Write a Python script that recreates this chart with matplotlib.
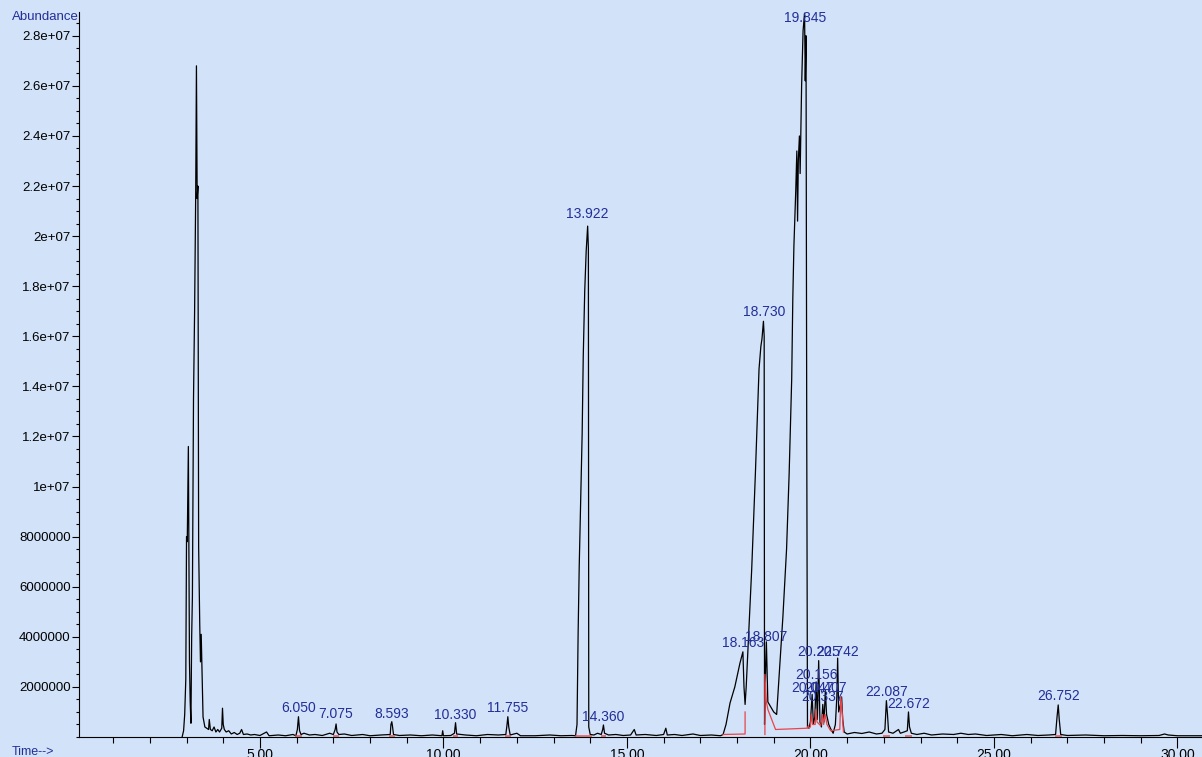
import numpy as np
import matplotlib
matplotlib.use("Agg")
import matplotlib.pyplot as plt
from matplotlib.ticker import MultipleLocator, FixedLocator

plt.rcParams['font.family'] = ['Liberation Sans', 'DejaVu Sans']

# total ion chromatogram, time in min, abundance in millions
time_min = [2.88, 2.92, 2.95, 2.98, 3.00, 3.02, 3.05, 3.08, 3.10, 3.12, 3.14, 3.16, 3.19, 3.22,
            3.25, 3.27, 3.29, 3.31, 3.33, 3.36, 3.38, 3.40, 3.42, 3.45, 3.50, 3.55, 3.60, 3.62,
            3.65, 3.70, 3.75, 3.80, 3.85, 3.90, 3.96, 3.98, 4.00, 4.03, 4.08, 4.15, 4.22, 4.30,
            4.38, 4.45, 4.50, 4.55, 4.65, 4.75, 4.85, 5.00, 5.18, 5.25, 5.50, 5.70, 5.90, 5.98,
            6.02, 6.05, 6.08, 6.12, 6.20, 6.35, 6.50, 6.70, 6.90, 7.00, 7.05, 7.075, 7.10, 7.15,
            7.30, 7.50, 7.80, 8.00, 8.30, 8.55, 8.57, 8.593, 8.61, 8.64, 8.80, 9.10, 9.40, 9.70,
            9.96, 9.98, 10.00, 10.20, 10.30, 10.33, 10.36, 10.60, 10.90, 11.20, 11.50, 11.70,
            11.73, 11.755, 11.78, 11.82, 12.00, 12.10, 12.50, 12.90, 13.20, 13.50, 13.60,
            13.64, 13.67, 13.70, 13.74, 13.78, 13.81, 13.85, 13.89, 13.93, 13.95, 13.96, 14.00,
            14.10, 14.20, 14.30, 14.34, 14.36, 14.39, 14.50, 14.70, 14.90, 15.10, 15.20, 15.25,
            15.50, 15.80, 16.00, 16.06, 16.10, 16.30, 16.50, 16.80, 17.00, 17.30, 17.55,
            17.62, 17.70, 17.81, 17.94, 18.08, 18.16, 18.19, 18.22, 18.25, 18.32, 18.40, 18.50,
            18.60, 18.65, 18.68, 18.72, 18.74, 18.75, 18.78, 18.80, 18.82, 18.84, 18.90, 19.00,
            19.08, 19.15, 19.25, 19.35, 19.42, 19.49, 19.52, 19.55, 19.60, 19.63, 19.65, 19.67,
            19.70, 19.72, 19.76, 19.80, 19.84, 19.86, 19.88, 19.90, 19.92, 19.96, 20.00, 20.047,
            20.08, 20.12, 20.156, 20.19, 20.225, 20.26, 20.30, 20.337, 20.37, 20.407, 20.44,
            20.50, 20.56, 20.62, 20.68, 20.72, 20.742, 20.77, 20.82, 20.85, 20.88, 20.92, 21.00,
            21.20, 21.40, 21.60, 21.80, 21.95, 22.03, 22.07, 22.10, 22.13, 22.25, 22.40, 22.45,
            22.55, 22.64, 22.672, 22.70, 22.75, 22.90, 23.10, 23.30, 23.60, 23.90, 24.10, 24.30,
            24.50, 24.80, 25.20, 25.50, 25.90, 26.20, 26.50, 26.68, 26.72, 26.752, 26.78, 26.82,
            27.00, 27.50, 28.00, 28.50, 29.00, 29.50, 29.65, 29.75, 30.00, 30.50, 30.67]
abund_m = [0.00, 0.25, 0.90, 2.30, 8.00, 7.80, 11.60, 3.00, 1.40, 0.55, 4.00, 5.60, 13.50, 17.00,
           21.70, 26.80, 21.50, 22.00, 7.60, 4.50, 3.00, 4.10, 2.80, 0.80, 0.40, 0.35, 0.30, 0.70,
           0.30, 0.25, 0.40, 0.20, 0.30, 0.20, 0.35, 1.15, 0.50, 0.30, 0.20, 0.25, 0.12, 0.18,
           0.10, 0.15, 0.30, 0.10, 0.12, 0.08, 0.10, 0.06, 0.20, 0.05, 0.08, 0.05, 0.10, 0.05,
           0.30, 0.81, 0.25, 0.10, 0.15, 0.08, 0.10, 0.06, 0.15, 0.10, 0.30, 0.52, 0.20, 0.10,
           0.12, 0.06, 0.10, 0.05, 0.08, 0.10, 0.50, 0.61, 0.45, 0.10, 0.06, 0.08, 0.05, 0.08,
           0.05, 0.25, 0.05, 0.06, 0.15, 0.57, 0.12, 0.08, 0.05, 0.10, 0.08, 0.10,
           0.45, 0.81, 0.40, 0.08, 0.15, 0.05, 0.05, 0.08, 0.05, 0.06, 0.05,
           0.50, 4.10, 6.80, 9.50, 12.10, 15.20, 17.80, 19.40, 20.40, 19.50, 0.40, 0.10,
           0.08, 0.15, 0.10, 0.30, 0.48, 0.15, 0.08, 0.10, 0.06, 0.08, 0.30, 0.08,
           0.10, 0.06, 0.10, 0.35, 0.08, 0.10, 0.06, 0.12, 0.06, 0.08, 0.05,
           0.10, 0.50, 1.36, 2.00, 2.95, 3.40, 2.00, 1.30, 2.00, 4.20, 6.70, 10.50,
           14.70, 15.60, 15.90, 16.60, 16.00, 0.50, 2.80, 3.80, 2.60, 1.40, 1.25, 1.00,
           0.90, 2.50, 4.80, 7.50, 10.50, 14.30, 17.50, 19.60, 21.80, 23.40, 20.60, 23.00,
           24.00, 22.50, 26.00, 28.20, 28.90, 26.20, 28.00, 12.00, 0.40, 0.35, 0.60, 1.70,
           0.50, 0.80, 2.20, 0.70, 3.05, 0.60, 0.40, 1.30, 0.60, 1.85, 0.90,
           0.50, 0.30, 0.15, 0.50, 1.60, 3.15, 1.00, 1.30, 1.60, 0.70, 0.20, 0.12,
           0.18, 0.14, 0.20, 0.12, 0.15, 0.30, 1.45, 0.90, 0.20, 0.15, 0.30, 0.15,
           0.20, 0.25, 1.00, 0.40, 0.15, 0.10, 0.15, 0.08, 0.12, 0.10, 0.15, 0.10,
           0.12, 0.06, 0.10, 0.05, 0.10, 0.06, 0.08, 0.10, 0.80, 1.28, 0.70, 0.10,
           0.06, 0.08, 0.05, 0.06, 0.05, 0.06, 0.12, 0.08, 0.05, 0.05, 0.05]

# integration traces (red)
integ_a_t = [17.62, 18.22, 18.22]
integ_a_y = [0.10, 0.12, 1.00]
integ_b_t = [18.76, 18.76, 18.80, 18.84, 19.05, 19.90, 19.95]
integ_b_y = [0.10, 2.50, 1.40, 1.10, 0.30, 0.35, 0.45]
integ_c_t = [19.93, 20.00, 20.02, 20.06, 20.13, 20.15, 20.18, 20.28, 20.33, 20.36, 20.40,
             20.45, 20.55, 20.80, 20.83, 20.87, 20.90]
integ_c_y = [0.35, 0.40, 0.90, 0.50, 0.50, 1.10, 0.60, 0.45, 0.90, 0.50, 0.90,
             0.50, 0.25, 0.30, 1.60, 0.90, 0.20]
integ_start = [5.99, 7.02, 8.54, 10.28, 11.70, 13.62, 14.32, 22.01, 22.61, 26.68]
integ_end = [6.11, 7.13, 8.65, 10.38, 11.81, 14.02, 14.41, 22.15, 22.74, 26.83]

# peak labels
peak_names = ['6.050', '7.075', '8.593', '10.330', '11.755', '13.922', '14.360', '18.163',
              '18.730', '18.807', '19.845', '20.047', '20.156', '20.225', '20.337', '20.407',
              '20.742', '22.087', '22.672', '26.752']
peak_t = [6.050, 7.075, 8.593, 10.330, 11.755, 13.922, 14.360, 18.163, 18.730, 18.807,
          19.845, 20.047, 20.156, 20.225, 20.337, 20.407, 20.742, 22.087, 22.672, 26.752]
label_y = [1.15, 0.91, 0.93, 0.89, 1.16, 20.89, 0.81, 3.77, 16.99, 3.98, 28.71, 1.96, 2.48,
           3.39, 1.60, 1.96, 3.39, 1.80, 1.32, 1.64]

ytick_vals = [2e6, 4e6, 6e6, 8e6, 1e7, 1.2e7, 1.4e7, 1.6e7, 1.8e7, 2e7, 2.2e7, 2.4e7, 2.6e7, 2.8e7]
ytick_labels = ['2000000', '4000000', '6000000', '8000000', '1e+07', '1.2e+07', '1.4e+07',
                '1.6e+07', '1.8e+07', '2e+07', '2.2e+07', '2.4e+07', '2.6e+07', '2.8e+07']
xtick_vals = [5, 10, 15, 20, 25, 30]
xtick_labels = ['5.00', '10.00', '15.00', '20.00', '25.00', '30.00']

bg = '#d1e2f9'
navy = '#232f98'
red = '#e8454a'

fig = plt.figure(figsize=(12.02, 7.57), dpi=100, facecolor=bg)
ax = fig.add_axes([79 / 1202, 20 / 757, 1 - 79 / 1202, 725 / 757])
ax.set_facecolor(bg)

ax.plot(time_min, np.array(abund_m) * 1e6, color='black', lw=0.9)

# red integration marks
ax.plot(integ_a_t, np.array(integ_a_y) * 1e6, color=red, lw=0.9)
ax.plot(integ_b_t, np.array(integ_b_y) * 1e6, color=red, lw=0.9)
ax.plot(integ_c_t, np.array(integ_c_y) * 1e6, color=red, lw=0.9)
for s, e in zip(integ_start, integ_end):
    ax.plot([s, e], [0.05e6, 0.05e6], color=red, lw=1.4, alpha=0.7)

for name, t, y in zip(peak_names, peak_t, label_y):
    ax.text(t, y * 1e6, name, ha='center', va='center', fontsize=10, color=navy, clip_on=False)

ax.set_xlim(0.07, 30.67)
ax.set_ylim(0, 28.95e6)

for side in ['top', 'right']:
    ax.spines[side].set_visible(False)
for side in ['left', 'bottom']:
    ax.spines[side].set_linewidth(0.8)

ax.yaxis.set_major_locator(FixedLocator(ytick_vals))
ax.set_yticklabels(ytick_labels)
ax.yaxis.set_minor_locator(MultipleLocator(5e5))
ax.set_xticks(xtick_vals)
ax.set_xticklabels(xtick_labels)
ax.xaxis.set_minor_locator(MultipleLocator(1))

ax.tick_params(axis='y', which='major', length=5, width=0.8, labelsize=9.5, pad=1)
ax.tick_params(axis='y', which='minor', length=2.5, width=0.8)
ax.tick_params(axis='x', which='major', length=8, width=0.8, labelsize=10, pad=0)
ax.tick_params(axis='x', which='minor', length=4.5, width=0.8)

fig.text(79 / 1202, 1 - 17 / 757, 'Abundance', ha='right', va='center', fontsize=9.5, color=navy)
fig.text(12 / 1202, 1 - 752 / 757, 'Time-->', ha='left', va='center', fontsize=9, color=navy)

fig.savefig('out.png', dpi=100, facecolor=bg)
